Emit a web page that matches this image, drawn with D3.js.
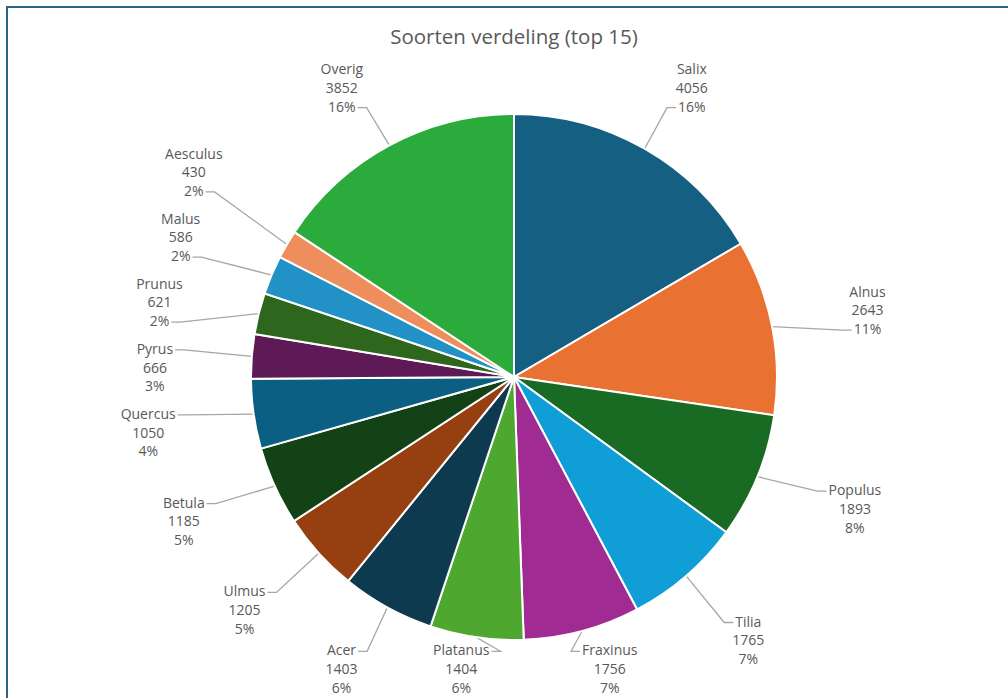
<!DOCTYPE html>
<html>
<head>
<meta charset="utf-8">
<script src="https://cdn.jsdelivr.net/npm/d3@7"></script>
<style>
  body { margin: 0; background: #fff; }
  text { font-family: "Open Sans", sans-serif; fill: #595959; }
</style>
</head>
<body>
<svg id="chart" width="1008" height="698"></svg>
<script>
// data
var soorten = ["Salix", "Alnus", "Populus", "Tilia", "Fraxinus", "Platanus", "Acer", "Ulmus",
               "Betula", "Quercus", "Pyrus", "Prunus", "Malus", "Aesculus", "Overig"];
var aantallen = [4056, 2643, 1893, 1765, 1756, 1404, 1403, 1205, 1185, 1050, 666, 621, 586, 430, 3852];
var percentages = ["16%", "11%", "8%", "7%", "7%", "6%", "6%", "5%", "5%", "4%", "3%", "2%", "2%", "2%", "16%"];
var kleuren = ["#156082", "#E97132", "#196B24", "#0F9ED5", "#A02B93", "#4EA72E", "#0D3A4F", "#964011",
               "#124216", "#0B5F82", "#5E1A57", "#2E661E", "#2191C6", "#EE8E5D", "#2AAB3C"];
var titel = "Soorten verdeling (top 15)";

var svg = d3.select("#chart");
var cx = 514, cy = 377, radius = 263;
var lineH = 18.7;

//chart frame
svg.append("rect")
    .attr("x", 7).attr("y", 7)
    .attr("width", 1010).attr("height", 700)
    .attr("fill", "none")
    .attr("stroke", "#2a6688")
    .attr("stroke-width", 2);

svg.append("text")
    .attr("x", cx).attr("y", 44)
    .attr("text-anchor", "middle")
    .style("font-size", "20.5px")
    .text(titel);

var data = soorten.map(function (s, i) {
    return {name: s, value: aantallen[i], pct: percentages[i]};
});

var kleur = d3.scaleOrdinal().domain(soorten).range(kleuren);

var pie = d3.pie().sort(null).value(function (d) { return d.value; });
var arc = d3.arc().innerRadius(0).outerRadius(radius);
var arcs = pie(data);

var g = svg.append("g").attr("transform", "translate(" + cx + "," + cy + ")");

g.selectAll("path.slice")
    .data(arcs)
    .enter().append("path")
    .attr("class", "slice")
    .attr("d", arc)
    .attr("fill", function (d) { return kleur(d.data.name); })
    .attr("stroke", "#fff")
    .attr("stroke-width", 2);

// labels: three lines each, placed outside the pie then pushed apart
var labels = svg.append("g").selectAll("text.lbl")
    .data(arcs)
    .enter().append("text")
    .attr("class", "lbl")
    .attr("text-anchor", "middle")
    .style("font-size", "14px");

var rx = 342, ry = 320;
labels.each(function (d) {
    var t = d3.select(this);
    [d.data.name, d.data.value, d.data.pct].forEach(function (s) {
        t.append("tspan").text(s);
    });
    var w = 0;
    t.selectAll("tspan").each(function () { w = Math.max(w, this.getComputedTextLength()); });
    d.w = w;
    d.h = lineH * 3;
    d.mid = (d.startAngle + d.endAngle) / 2;
    var s = Math.sin(d.mid), c = Math.cos(d.mid);
    d.lx = cx + s * (rx + w / 2);
    d.ly = cy - c * (ry + d.h / 2);
    d.px = cx + s * radius;
    d.py = cy - c * radius;
});

var yMin = 88, yMax = 669;
for (var it = 0; it < 300; it++) {
    arcs.forEach(function (d) { d.ly = Math.max(yMin, Math.min(yMax, d.ly)); });
    for (var i = 0; i < arcs.length; i++) {
        for (var j = i + 1; j < arcs.length; j++) {
            var a = arcs[i], b = arcs[j];
            var overlapX = (a.w + b.w) / 2 + 8 - Math.abs(a.lx - b.lx);
            var overlapY = (a.h + b.h) / 2 + 9 - Math.abs(a.ly - b.ly);
            if (overlapX > 0 && overlapY > 0) {
                var dir = a.ly < b.ly ? -1 : 1;
                a.ly += dir * overlapY / 4;
                b.ly -= dir * overlapY / 4;
            }
        }
    }
}
arcs.forEach(function (d) { d.ly = Math.max(yMin, Math.min(yMax, d.ly)); });

labels.each(function (d) {
    d3.select(this).selectAll("tspan")
        .attr("x", d.lx)
        .attr("y", function (s, k) { return d.ly + (k - 1) * lineH + 5; });
});

// leader lines
var leaders = svg.insert("g", "g").attr("class", "leaders");
arcs.forEach(function (d) {
    var lines = [d.ly - lineH, d.ly, d.ly + lineH];
    var k = d3.minIndex(lines, function (y) { return Math.abs(y - d.py); });
    var ay = lines[k] + 1;
    var side = d.px < d.lx ? -1 : 1;
    var lw = d3.select(labels.nodes()[d.index]).selectAll("tspan").nodes()[k].getComputedTextLength();
    var ax = d.lx + side * (lw / 2 + 2);
    var ex = ax + side * 9;
    leaders.append("polyline")
        .attr("points", [[d.px, d.py], [ex, ay], [ax, ay]].map(function (p) { return p.join(","); }).join(" "))
        .attr("fill", "none")
        .attr("stroke", "#a6a6a6")
        .attr("stroke-width", 1.3);
});
</script>
</body>
</html>
